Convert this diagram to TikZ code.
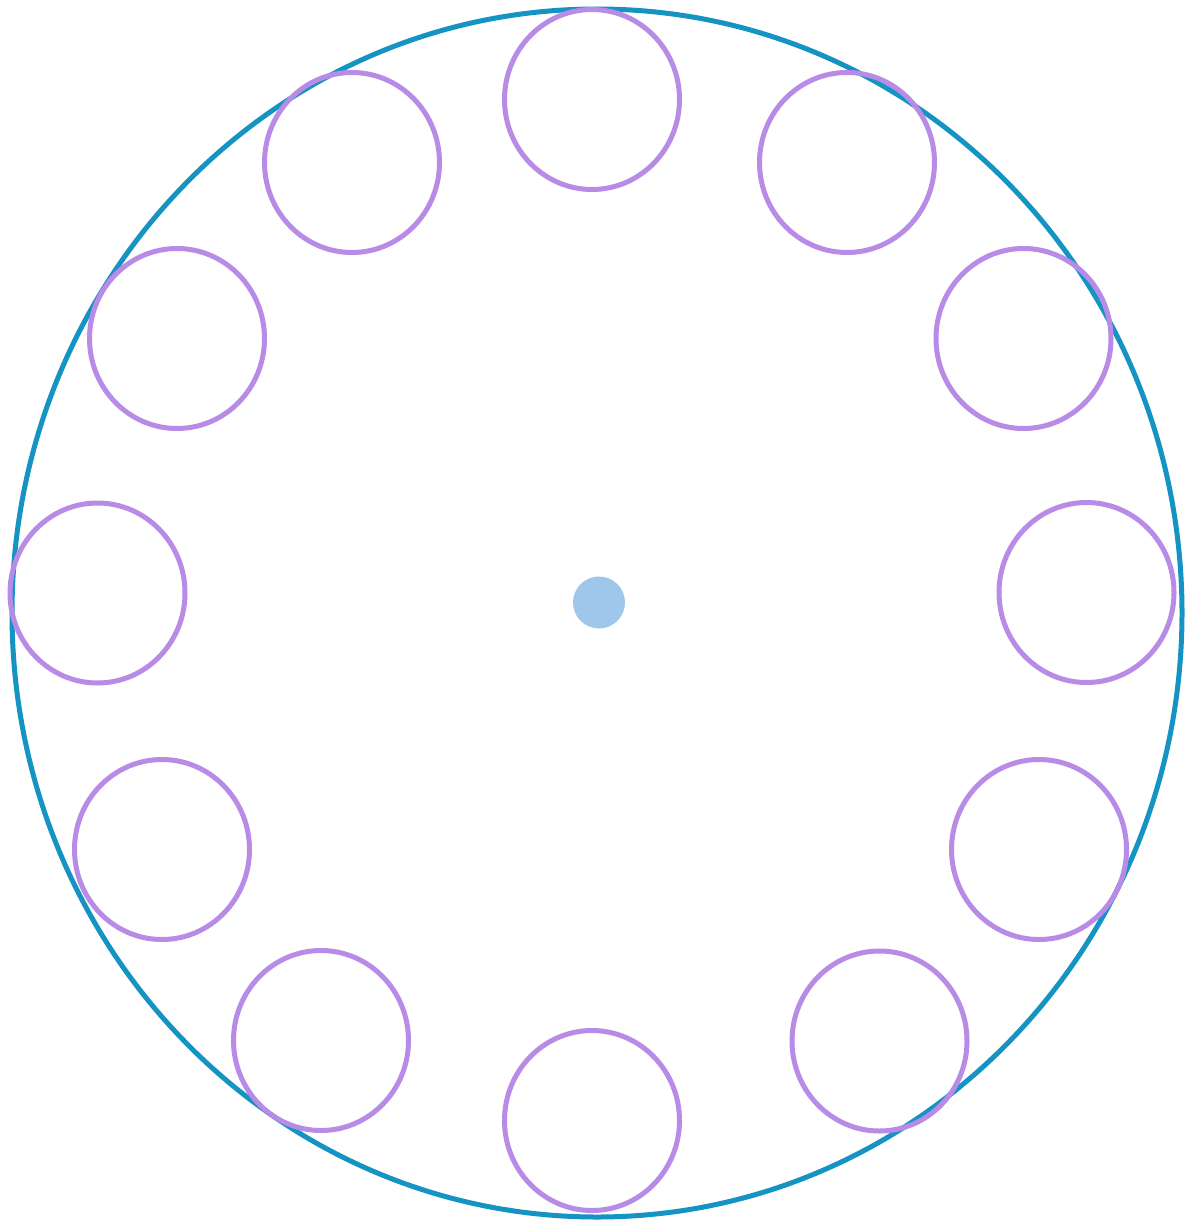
\documentclass[tikz,border=0pt]{standalone}
\begin{document}
\begin{tikzpicture}[x=1pt,y=-1pt,
  outerring/.style={draw=outercol,line width=5pt},
  ring/.style={draw=ringcol,line width=5pt},
  hub/.style={fill=hubcol}]
\definecolor{outercol}{HTML}{1593C2}
\definecolor{ringcol}{HTML}{B78BE6}
\definecolor{hubcol}{HTML}{9FC6EB}
\useasboundingbox[fill=white] (0,0) rectangle (1186,1223);
\draw[outerring] (597,613) ellipse [x radius=585pt, y radius=604pt];
\foreach \cx/\cy in {592/99.5, 847/162.5, 1023.5/338.5, 1086.5/592.5,
  1039/849.5, 879.5/1041, 592/1120.5, 321/1040.5, 162/849.5,
  97.5/593, 177/338.5, 352/162.5}{
  \draw[ring] (\cx,\cy) ellipse [x radius=87.5pt, y radius=90pt];
}
\fill[hub] (599,602.5) ellipse [x radius=26pt, y radius=26pt];
\end{tikzpicture}
\end{document}
